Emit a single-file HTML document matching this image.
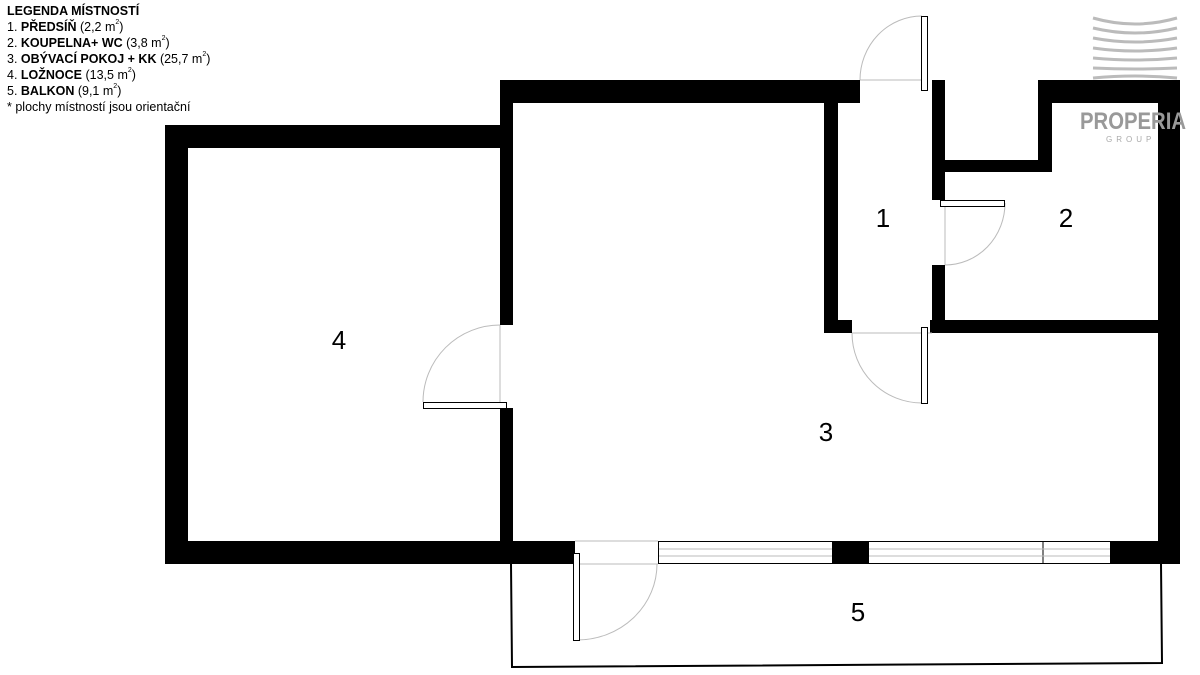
<!DOCTYPE html>
<html><head><meta charset="utf-8"><style>
html,body{margin:0;padding:0;background:#fff;width:1200px;height:675px;overflow:hidden}
.leg{position:absolute;left:7px;top:3px;font-family:"Liberation Sans",sans-serif;font-size:12.5px;line-height:16px;color:#000}
.leg b{font-weight:bold}
sup{font-size:7px;vertical-align:top;line-height:8px}
</style></head><body>
<div class="leg">
<b>LEGENDA MÍSTNOSTÍ</b><br>
1. <b>PŘEDSÍŇ</b> (2,2 m<sup>2</sup>)<br>
2. <b>KOUPELNA+ WC</b> (3,8 m<sup>2</sup>)<br>
3. <b>OBÝVACÍ POKOJ + KK</b> (25,7 m<sup>2</sup>)<br>
4. <b>LOŽNOCE</b> (13,5 m<sup>2</sup>)<br>
5. <b>BALKON</b> (9,1 m<sup>2</sup>)<br>
* plochy místností jsou orientační
</div>
<svg width="1200" height="675" style="position:absolute;left:0;top:0" xmlns="http://www.w3.org/2000/svg">
<g fill="#000">
<rect x="165" y="125" width="348" height="23"/>
<rect x="165" y="125" width="23" height="439"/>
<rect x="165" y="541" width="410" height="23"/>
<rect x="500" y="80" width="13" height="245"/>
<rect x="500" y="408" width="13" height="156"/>
<rect x="500" y="80" width="360" height="23"/>
<rect x="824" y="80" width="14" height="253"/>
<rect x="824" y="320" width="28" height="13"/>
<rect x="932" y="80" width="13" height="120"/>
<rect x="932" y="265" width="13" height="68"/>
<rect x="930" y="320" width="230" height="13"/>
<rect x="932" y="160" width="120" height="12"/>
<rect x="1038" y="80" width="14" height="92"/>
<rect x="1038" y="80" width="142" height="23"/>
<rect x="1158" y="80" width="22" height="484"/>
<rect x="832" y="541" width="36" height="23"/>
<rect x="1110" y="541" width="70" height="23"/>
</g>
<g stroke="#bbb" stroke-width="3" fill="none">
<path d="M1093 18 Q1135 30 1177 18"/><path d="M1093 28 Q1135 38 1177 28"/><path d="M1093 38 Q1135 46 1177 38"/>
<path d="M1093 48 Q1135 54 1177 48"/><path d="M1093 58 Q1135 62 1177 58"/><path d="M1093 68 Q1135 70 1177 68"/>
<path d="M1093 78 Q1135 74 1177 78"/>
</g>
<text x="1080" y="129" font-family="Liberation Sans,sans-serif" font-weight="bold" font-size="24" fill="#999" textLength="106" lengthAdjust="spacingAndGlyphs">PROPERIA</text>
<text x="1106" y="142" font-family="Liberation Sans,sans-serif" font-size="8" fill="#aaa" letter-spacing="4">GROUP</text>
<g fill="#fff" stroke="#000" stroke-width="1">
<rect x="658.5" y="541.5" width="174" height="22"/>
<rect x="868.5" y="541.5" width="242" height="22"/>
<line x1="1043" y1="541" x2="1043" y2="564"/>
</g>
<g stroke="#bbb" stroke-width="1">
<line x1="659" y1="549" x2="832" y2="549"/><line x1="659" y1="556" x2="832" y2="556"/>
<line x1="869" y1="549" x2="1110" y2="549"/><line x1="869" y1="556" x2="1110" y2="556"/>
</g>
<path d="M511 564 L512 667 L1162 663 L1161 564" fill="none" stroke="#000" stroke-width="2"/>
<g fill="none" stroke="#bbb" stroke-width="1">
<path d="M860 80 A62 64 0 0 1 922 16"/><line x1="860" y1="80" x2="922" y2="80"/>
<path d="M1005 203 A60 62 0 0 1 945 265"/><line x1="945" y1="203" x2="945" y2="265"/>
<path d="M852 333 A70 70 0 0 0 922 403"/><line x1="852" y1="333" x2="932" y2="333"/>
<path d="M500 325 A77 77 0 0 0 423 402"/><line x1="500" y1="325" x2="500" y2="408"/>
<path d="M657 564 A80 76 0 0 1 577 640"/><line x1="575" y1="564" x2="658" y2="564"/><line x1="575" y1="541" x2="658" y2="541"/>
</g>
<g fill="#fff" stroke="#000" stroke-width="1">
<rect x="921.5" y="16.5" width="6" height="74"/>
<rect x="940.5" y="200.5" width="64" height="6"/>
<rect x="921.5" y="327.5" width="6" height="76"/>
<rect x="423.5" y="402.5" width="83" height="6"/>
<rect x="573.5" y="553.5" width="6" height="87"/>
</g>
<g font-family="Liberation Sans,sans-serif" font-size="26" fill="#000" text-anchor="middle">
<text x="883" y="227">1</text><text x="1066" y="227">2</text><text x="826" y="441">3</text>
<text x="339" y="349">4</text><text x="858" y="621">5</text>
</g>
</svg>
</body></html>
